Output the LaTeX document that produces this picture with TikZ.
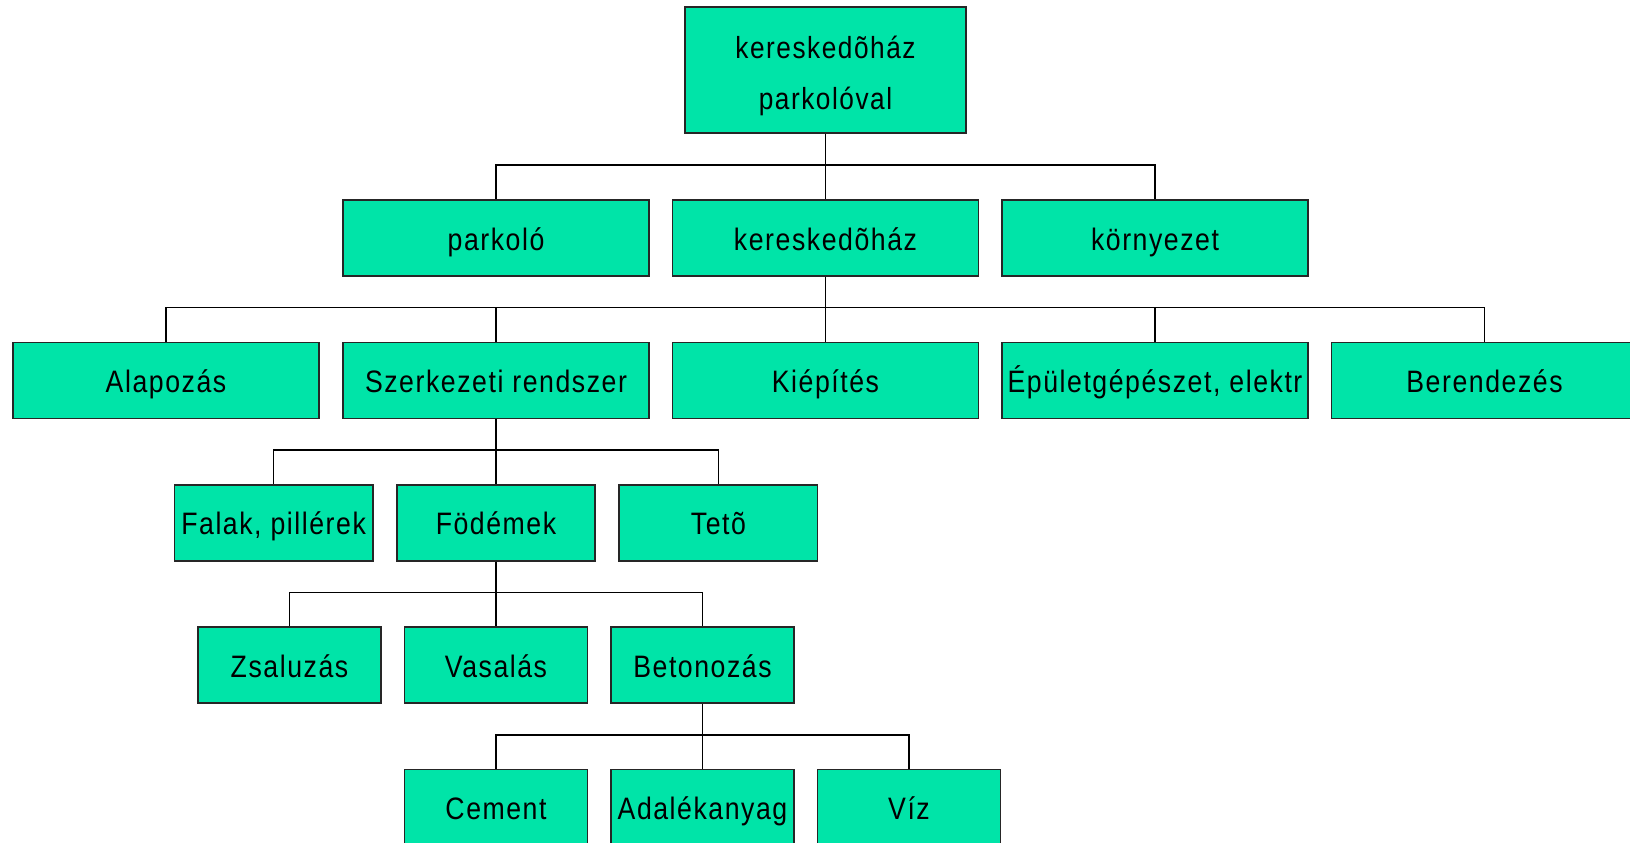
\documentclass[tikz,border=0pt]{standalone}
\usepackage{fontspec}
\setmainfont{Liberation Sans}[FakeStretch=0.86,LetterSpace=5]
\usetikzlibrary{calc}
\definecolor{boxfill}{RGB}{0,228,168}
\newcommand\treelink[2]{\draw[link] (#1.south) |- ($(#2.north)+(0,-34)$) -- (#2.north);}
\begin{document}
\begin{tikzpicture}[x=1pt,y=-1pt,
  box/.style={draw=black!85, line width=1.6pt, fill=boxfill, inner sep=0pt,
    font=\fontsize{31pt}{51.7pt}\selectfont, text height=24.5pt, text depth=0pt},
  wide/.style={box, minimum width=306pt, minimum height=76pt},
  mid/.style={box, minimum width=198.5pt, minimum height=76pt},
  narrow/.style={box, minimum width=183pt, minimum height=76pt},
  link/.style={line width=1.6pt, black}]
\clip (0,0) rectangle (1630,843);
\fill[white] (0,0) rectangle (1630,843);
% root
\node[box, minimum width=281pt, minimum height=125.4pt] (root) at (825.5,70) {};
\node[align=center, inner sep=0pt, font=\fontsize{30.5pt}{51.7pt}\selectfont] (rootlabel) at (825.5,76) {kereskedõház\\parkolóval};
% level 1
\node[wide] (park) at (496,238) {parkoló};
\node[wide] (ker) at (825.5,238) {kereskedõház};
\node[wide] (korny) at (1155,238) {környezet};
% level 2
\node[wide] (alap) at (166,380.3) {Alapozás};
\node[wide] (szerk) at (496,380.3) {Szerkezeti rendszer};
\node[wide] (kiep) at (825.5,380.3) {Kiépítés};
\node[wide] (epul) at (1155,380.3) {Épületgépészet, elektr};
\node[wide] (beren) at (1484.5,380.3) {Berendezés};
% level 3
\node[mid] (falak) at (273.6,522.7) {Falak, pillérek};
\node[mid] (fodem) at (496,522.7) {Födémek};
\node[mid] (teto) at (718.4,522.7) {Tetõ};
% level 4
\node[narrow] (zsal) at (289.5,665.1) {Zsaluzás};
\node[narrow] (vas) at (496,665.1) {Vasalás};
\node[narrow] (beton) at (702.5,665.1) {Betonozás};
% level 5
\node[narrow] (cement) at (496,807.5) {Cement};
\node[narrow] (adal) at (702.5,807.5) {Adalékanyag};
\node[narrow] (viz) at (909,807.5) {Víz};
% connectors
\treelink{root}{park}
\treelink{root}{ker}
\treelink{root}{korny}
\treelink{ker}{alap}
\treelink{ker}{szerk}
\treelink{ker}{kiep}
\treelink{ker}{epul}
\treelink{ker}{beren}
\treelink{szerk}{falak}
\treelink{szerk}{fodem}
\treelink{szerk}{teto}
\treelink{fodem}{zsal}
\treelink{fodem}{vas}
\treelink{fodem}{beton}
\treelink{beton}{cement}
\treelink{beton}{adal}
\treelink{beton}{viz}
\end{tikzpicture}
\end{document}
